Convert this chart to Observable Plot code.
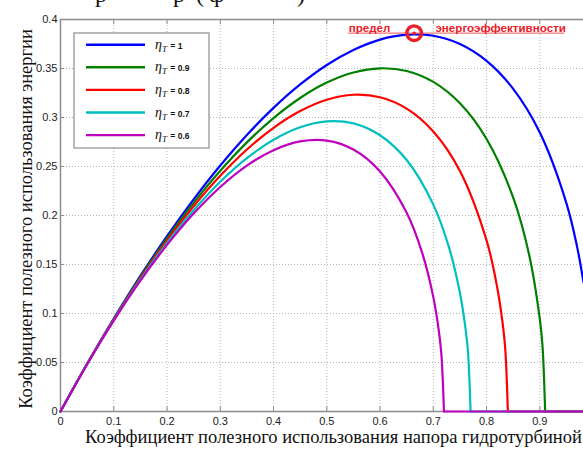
<!DOCTYPE html>
<html><head><meta charset="utf-8">
<script src="https://cdn.jsdelivr.net/npm/d3@7"></script>
<script src="https://cdn.jsdelivr.net/npm/@observablehq/plot@0.6"></script>
<style>
body{margin:0;background:#fff;}
#chart{position:relative;width:583px;height:452px;overflow:hidden;background:#fff;}
</style>
</head><body><div id="chart"></div>
<script>
// ---- data ----
const seriesLabels = ["1", "0.9", "0.8", "0.7", "0.6"];
const seriesColors = ["#0000ff", "#008000", "#ff0000", "#00bfbf", "#bf00bf"];

const x_eta10 = [0,0.05,0.1,0.15,0.2,0.25,0.3,0.35,0.4,0.45,0.5,0.55,0.6,0.65,0.7,0.75,0.8,0.85,0.9,0.95,0.97,0.982];
const y_eta10 = [0,0.0487,0.0949,0.1383,0.1789,0.2165,0.2510,0.2822,0.3098,0.3337,0.3536,0.3689,0.3795,0.3845,0.3834,0.3750,0.3578,0.3292,0.2846,0.2124,0.168,0.1318];

const x_eta09 = [0,0.05,0.1,0.15,0.2,0.25,0.3,0.35,0.4,0.45,0.5,0.55,0.6,0.65,0.7,0.75,0.8,0.85,0.88,0.9,0.905,0.91,0.982];
const y_eta09 = [0,0.0486,0.0943,0.1371,0.1767,0.2129,0.2456,0.2746,0.2994,0.3199,0.3356,0.3459,0.3502,0.3475,0.3363,0.3145,0.2781,0.2183,0.1598,0.0943,0.0671,0,0];

const x_eta08 = [0,0.05,0.1,0.15,0.2,0.25,0.3,0.35,0.4,0.45,0.5,0.55,0.6,0.65,0.7,0.75,0.8,0.82,0.83,0.835,0.84,0.982];
const y_eta08 = [0,0.0485,0.0939,0.1359,0.1746,0.2095,0.2405,0.2673,0.2895,0.3066,0.3181,0.3232,0.3207,0.3091,0.2858,0.2455,0.1746,0.1265,0.0906,0.0644,0,0];

const x_eta07 = [0,0.05,0.1,0.15,0.2,0.25,0.3,0.35,0.4,0.45,0.5,0.55,0.6,0.65,0.7,0.73,0.75,0.76,0.765,0.77,0.982];
const y_eta07 = [0,0.0484,0.0933,0.1346,0.1721,0.2054,0.2344,0.2585,0.2773,0.2901,0.2961,0.2940,0.2819,0.2566,0.2111,0.1664,0.1209,0.0866,0.0617,0,0];

const x_eta06 = [0,0.05,0.1,0.15,0.2,0.25,0.3,0.35,0.4,0.45,0.5,0.55,0.6,0.65,0.68,0.7,0.71,0.715,0.72,0.982];
const y_eta06 = [0,0.0482,0.0928,0.1335,0.1700,0.2020,0.2291,0.2509,0.2667,0.2756,0.2764,0.2673,0.2449,0.2027,0.1603,0.1167,0.0837,0.0596,0,0];

const xTicks = [0,0.1,0.2,0.3,0.4,0.5,0.6,0.7,0.8,0.9];
const yTicks = [0,0.05,0.1,0.15,0.2,0.25,0.3,0.35,0.4];

const peakPoint = [{x: 0.664, y: 0.386}];
const annotationWords = [
  {text: "предел", x: 0.541},
  {text: "энергоэффективности", x: 0.704}
];
const underlineSpan = [{x1: 0.541, x2: 0.947, y: 0.386}];

const xLabel = "Коэффициент полезного использования напора гидротурбиной";
const yLabel = "Коэффициент полезного использования энергии";
const headingFragments = ["р", "р", "(", "ф", ")"];

// ---- build ----
const xs = [x_eta10, x_eta09, x_eta08, x_eta07, x_eta06];
const ys = [y_eta10, y_eta09, y_eta08, y_eta07, y_eta06];
const series = xs.map((xa, i) => xa.map((x, j) => ({x, y: ys[i][j]})));
const zeroIndex = series.map(d => d.findIndex((p, j) => j > 0 && p.y === 0));
const curveParts = series.map((d, i) => zeroIndex[i] < 0 ? d : d.slice(0, zeroIndex[i] + 1));
const tailParts = series.map((d, i) => zeroIndex[i] < 0 ? [] : d.slice(zeroIndex[i]));

const fmt = d => String(+d.toFixed(2));
const axisColor = "#8c8c8c";
const red = "#e8202a";
const serif = "'Liberation Serif', 'Times New Roman', serif";
const sans = "'Liberation Sans', Arial, sans-serif";

const chart = Plot.plot({
  width: 583, height: 452,
  marginLeft: 60, marginRight: 0, marginTop: 19, marginBottom: 41,
  style: {background: "#fff", fontFamily: sans, fontSize: "11px", color: "#222", overflow: "hidden"},
  x: {domain: [0, 0.982], label: null},
  y: {domain: [0, 0.4], label: null},
  marks: [
    Plot.gridX(xTicks.slice(1), {stroke: "#b5b5b5", strokeOpacity: 1, strokeDasharray: "1,2", strokeWidth: 1}),
    Plot.gridY(yTicks.slice(1, -1), {stroke: "#b5b5b5", strokeOpacity: 1, strokeDasharray: "1,2", strokeWidth: 1}),
    Plot.axisX(xTicks, {tickSize: 0, tickPadding: 6, tickFormat: fmt, label: null, fontSize: 11, fill: "#222"}),
    Plot.axisY(yTicks, {tickSize: 0, tickPadding: 3, tickFormat: fmt, label: null, fontSize: 11, fill: "#222"}),
    // box
    Plot.ruleY([0.4], {stroke: axisColor, strokeWidth: 1.3}),
    Plot.ruleY([0], {stroke: axisColor, strokeWidth: 1.5}),
    Plot.ruleX([0], {stroke: axisColor, strokeWidth: 1.5}),
    // inward ticks
    Plot.ruleY(yTicks, {x1: 0, x2: 0.008, stroke: axisColor, strokeWidth: 1}),
    Plot.ruleX(xTicks, {y1: 0, y2: 0.005, stroke: axisColor, strokeWidth: 1}),
    Plot.ruleX(xTicks, {y1: 0.4, y2: 0.395, stroke: axisColor, strokeWidth: 1}),
    // curves (blue first, magenta on top)
    ...series.flatMap((d, i) => [
      Plot.line(curveParts[i], {x: "x", y: "y", stroke: seriesColors[i], strokeWidth: 2.2, curve: "catmull-rom"}),
      Plot.line(tailParts[i], {x: "x", y: "y", stroke: seriesColors[i], strokeWidth: 2.2})
    ]),
    // annotation
    Plot.ruleY(underlineSpan, {x1: "x1", x2: "x2", y: "y", stroke: "#f07878", strokeWidth: 1.3}),
    Plot.text(annotationWords, {x: "x", y: 0.386, text: "text", textAnchor: "start", lineAnchor: "bottom", dy: -1.5,
      fill: red, fontWeight: "bold", fontSize: 11.6, fontFamily: sans}),
    Plot.dot(peakPoint, {x: "x", y: "y", r: 7.3, stroke: red, strokeWidth: 3.4, fill: "none"}),
    Plot.dot(peakPoint, {x: "x", y: "y", r: 1.8, fill: red, stroke: "none"})
  ]
});

document.getElementById("chart").appendChild(chart);

// ---- extra text & legend ----
const svg = d3.select(chart);

function fitText(sel, base, target) {
  const w = sel.node().getComputedTextLength();
  if (w > 0) sel.style("font-size", (base * target / w).toFixed(2) + "px");
}

// axis titles
const xt = svg.append("text")
  .attr("x", 85).attr("y", 443)
  .attr("text-anchor", "start")
  .style("font-family", serif).style("font-size", "17px").attr("fill", "#111")
  .text(xLabel);
fitText(xt, 17, 497);
const yt = svg.append("text")
  .attr("transform", "translate(32,219) rotate(-90)")
  .attr("text-anchor", "middle")
  .style("font-family", serif).style("font-size", "17px").attr("fill", "#111")
  .text(yLabel);
fitText(yt, 17, 380);

// cropped heading fragments at the very top (the reference is cut there)
const fragX = [95, 173, 196, 209, 297];
headingFragments.forEach((t, i) => {
  svg.append("text").attr("x", fragX[i]).attr("y", 2).attr("text-anchor", "start")
    .style("font-family", serif).style("font-size", "24px").attr("fill", "#111").text(t);
});

// legend
const lg = svg.append("g").attr("text-anchor", "start");
lg.append("rect").attr("x", 74).attr("y", 33).attr("width", 135).attr("height", 115)
  .attr("fill", "#fff").attr("stroke", "#8c8c8c").attr("stroke-width", 1.2);
seriesLabels.forEach((lab, i) => {
  const y = 44.7 + i * 22.6;
  lg.append("line").attr("x1", 86).attr("x2", 145).attr("y1", y).attr("y2", y)
    .attr("stroke", seriesColors[i]).attr("stroke-width", 2.4);
  const t = lg.append("text").attr("x", 155).attr("y", y + 4).attr("fill", "#111").attr("text-anchor", "start");
  t.append("tspan").style("font-family", serif).style("font-style", "italic").style("font-size", "14px").text("η");
  t.append("tspan").style("font-family", serif).style("font-style", "italic").style("font-size", "9px").attr("dy", 3).text("T");
  t.append("tspan").style("font-family", sans).style("font-weight", "bold").style("font-size", "8.5px").attr("dy", -3).attr("dx", 1).text(" = " + lab);
});
</script>
</body></html>
